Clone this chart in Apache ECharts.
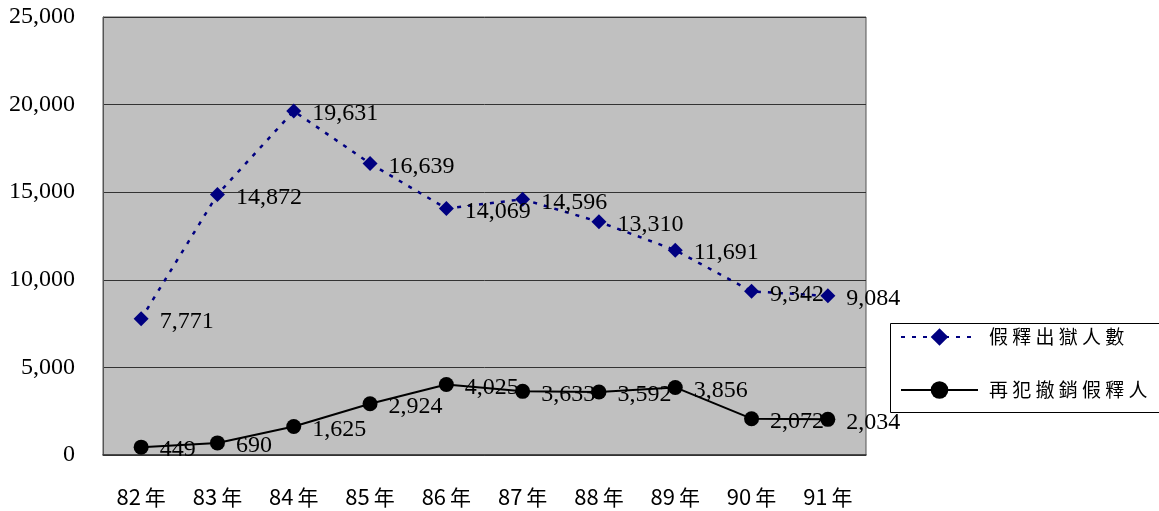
<!DOCTYPE html>
<html><head><meta charset="utf-8">
<script src="https://cdn.jsdelivr.net/npm/echarts@6/dist/echarts.min.js"></script>
<style>html,body{margin:0;padding:0;background:#fff}#c{width:1159px;height:511px}</style>
</head><body><div id="c"></div>
<script>
var categories = ['82年','83年','84年','85年','86年','87年','88年','89年','90年','91年'];
var paroleReleased = [7771, 14872, 19631, 16639, 14069, 14596, 13310, 11691, 9342, 9084];
var paroleRevoked = [449, 690, 1625, 2924, 4025, 3633, 3592, 3856, 2072, 2034];
var seriesNames = ['假釋出獄人數', '再犯撤銷假釋人數'];
var yTicks = {min: 0, max: 25000, interval: 5000};

var chart = echarts.init(document.getElementById('c'));
var serif = "'Liberation Serif'";
var cjk = "'Noto Sans CJK TC', 'Noto Sans', sans-serif";
var labelCfg = {
  show: true, position: 'right', distance: 11, offset: [0, 3],
  color: '#000', fontFamily: serif, fontSize: 24,
  formatter: function (p) { return p.value.toLocaleString('en-US'); }
};
chart.setOption({
  animation: false,
  backgroundColor: '#fff',
  grid: {left: 103, top: 17, right: 293, bottom: 56, show: true,
         backgroundColor: '#C0C0C0', borderColor: '#555', borderWidth: 1},
  graphic: [{type: 'rect', shape: {x: 890.5, y: 323.5, width: 300, height: 89},
             style: {fill: '#fff', stroke: '#000', lineWidth: 1}, z: 0}],
  legend: {
    orient: 'vertical', left: 900, top: 326, padding: 0, itemGap: 31,
    itemWidth: 77, itemHeight: 22, z: 10,
    textStyle: {fontFamily: cjk, fontSize: 19, color: '#000', lineHeight: 22,
                padding: [0, 0, 0, 6], width: 168, overflow: 'truncate', ellipsis: ''},
    formatter: function (n) { return n.split('').join(' '); },
    data: seriesNames
  },
  xAxis: {
    type: 'category', data: categories, boundaryGap: true,
    axisLine: {lineStyle: {color: '#333', width: 1.5}},
    axisTick: {inside: true, length: 6, interval: 0, lineStyle: {color: '#333'}},
    axisLabel: {interval: 0, margin: 31, color: '#000', fontFamily: cjk, fontSize: 22,
      formatter: function (v) { return '{a|' + v.replace('年', '') + '}{b|年}'; },
      rich: {a: {fontFamily: cjk, fontSize: 22, color: '#000'},
             b: {fontFamily: cjk, fontSize: 21, color: '#000', padding: [0, 0, 0, 4]}}}
  },
  yAxis: {
    type: 'value', min: yTicks.min, max: yTicks.max, interval: yTicks.interval,
    axisLine: {show: true, lineStyle: {color: '#555'}},
    axisTick: {show: false},
    splitLine: {lineStyle: {color: '#333', width: 1}},
    axisLabel: {margin: 28, color: '#000', fontFamily: serif, fontSize: 24,
      formatter: function (v) { return v.toLocaleString('en-US'); }}
  },
  series: [
    {name: seriesNames[0], type: 'line', data: paroleReleased,
     symbol: 'diamond', symbolSize: 15,
     itemStyle: {color: '#000080'},
     lineStyle: {color: '#000080', width: 2.5, type: [4, 7]},
     label: labelCfg},
    {name: seriesNames[1], type: 'line', data: paroleRevoked,
     symbol: 'circle', symbolSize: 15,
     itemStyle: {color: '#000'},
     lineStyle: {color: '#000', width: 2},
     label: labelCfg}
  ]
});
</script></body></html>
